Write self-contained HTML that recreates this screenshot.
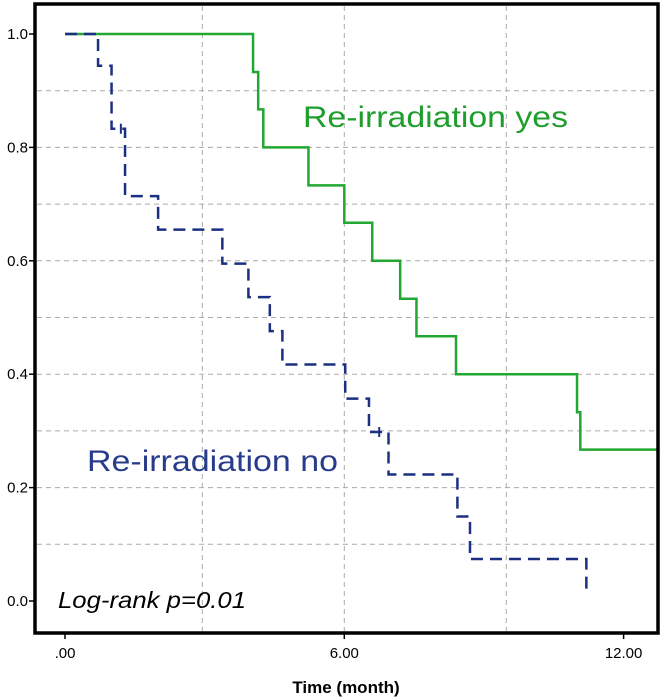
<!DOCTYPE html>
<html><head><meta charset="utf-8"><style>body{margin:0;background:#fff}svg{display:block}</style></head>
<body>
<svg id="chart" width="661" height="698" viewBox="0 0 661 698" xmlns="http://www.w3.org/2000/svg" font-family="Liberation Sans, sans-serif">
<g id="grid"></g>
<g id="series"></g>
<rect x="35" y="4" width="623" height="629" fill="none" stroke="#000" stroke-width="3.5"/>
<g id="ticks"></g>
<text x="303" y="127" font-size="30" fill="#1f9e2e" textLength="265" lengthAdjust="spacingAndGlyphs">Re-irradiation yes</text>
<text x="87" y="471" font-size="30" fill="#283c8c" textLength="251" lengthAdjust="spacingAndGlyphs">Re-irradiation no</text>
<text x="58" y="608" font-size="23" font-style="italic" fill="#000" textLength="188" lengthAdjust="spacingAndGlyphs">Log-rank p=0.01</text>
<text x="346" y="693" font-size="17" font-weight="bold" text-anchor="middle">Time (month)</text>
</svg>
<script>
const yesTimes=[0,4.04,4.15,4.26,5.23,6.0,6.6,7.2,7.55,8.4,11.0,11.07,12.75];
const yesSurv=[1.0,0.933,0.867,0.8,0.733,0.667,0.6,0.533,0.467,0.4,0.333,0.267,0.267];
const noTimes=[0,0.71,1.0,1.29,2.0,3.38,3.94,4.4,4.67,6.02,6.53,6.95,8.43,8.7,11.2];
const noSurv=[1.0,0.944,0.833,0.714,0.655,0.595,0.536,0.476,0.417,0.357,0.298,0.223,0.149,0.074,0.01];
const noCensorT=[1.2,6.75];
const noCensorS=[0.833,0.298];
const xTicks=[0,6,12];
const xTickLabels=[".00","6.00","12.00"];
const yTicks=[0,0.2,0.4,0.6,0.8,1.0];
const yTickLabels=["0.0","0.2","0.4","0.6","0.8","1.0"];
const xGrid=[2.95,6.0,9.48];
const yGrid=[0.1,0.2,0.3,0.4,0.5,0.6,0.7,0.8,0.9];
const NS="http://www.w3.org/2000/svg";
const X=t=>65+t*46.55;
const Y=s=>601-s*567;
function mk(tag,attrs,parent){const e=document.createElementNS(NS,tag);for(const k in attrs)e.setAttribute(k,attrs[k]);parent.appendChild(e);return e;}
const grid=document.getElementById('grid'),series=document.getElementById('series'),ticks=document.getElementById('ticks');
yGrid.forEach(v=>{const l=mk('line',{x1:37,x2:657,y1:Y(v),y2:Y(v),stroke:'#aaa','stroke-width':1,'stroke-dasharray':'5,4'},grid);

});
xGrid.forEach(v=>{const l=mk('line',{x1:X(v),x2:X(v),y1:6,y2:631,stroke:'#aaa','stroke-width':1,'stroke-dasharray':'5,4'},grid);

});
function stepPath(T,S){let d=`M${X(T[0])},${Y(S[0])}`;for(let i=1;i<T.length;i++){d+=` H${X(T[i])} V${Y(S[i])}`;}return d;}
const py=mk('path',{d:stepPath(yesTimes,yesSurv),fill:'none',stroke:'#22a832','stroke-width':2.5},series);


const pn=mk('path',{d:stepPath(noTimes,noSurv),fill:'none',stroke:'#1c2f80','stroke-width':2.5,'stroke-dasharray':'12,7'},series);


noCensorT.forEach((t,i)=>{const c=mk('line',{x1:X(t),x2:X(t),y1:Y(noCensorS[i])-5,y2:Y(noCensorS[i])+5,stroke:'#1c2f80','stroke-width':2},series);

});
xTicks.forEach((v,i)=>{const l=mk('line',{x1:X(v),x2:X(v),y1:633,y2:639,stroke:'#000','stroke-width':1.5},ticks);


const t=mk('text',{x:X(v),y:658,'font-size':15,'text-anchor':'middle'},ticks);t.textContent=xTickLabels[i];

});
yTicks.forEach((v,i)=>{const l=mk('line',{x1:29,x2:35,y1:Y(v),y2:Y(v),stroke:'#000','stroke-width':1.5},ticks);


const t=mk('text',{x:28,y:Y(v)+5,'font-size':15,'text-anchor':'end'},ticks);t.textContent=yTickLabels[i];

});
</script>
</body></html>
